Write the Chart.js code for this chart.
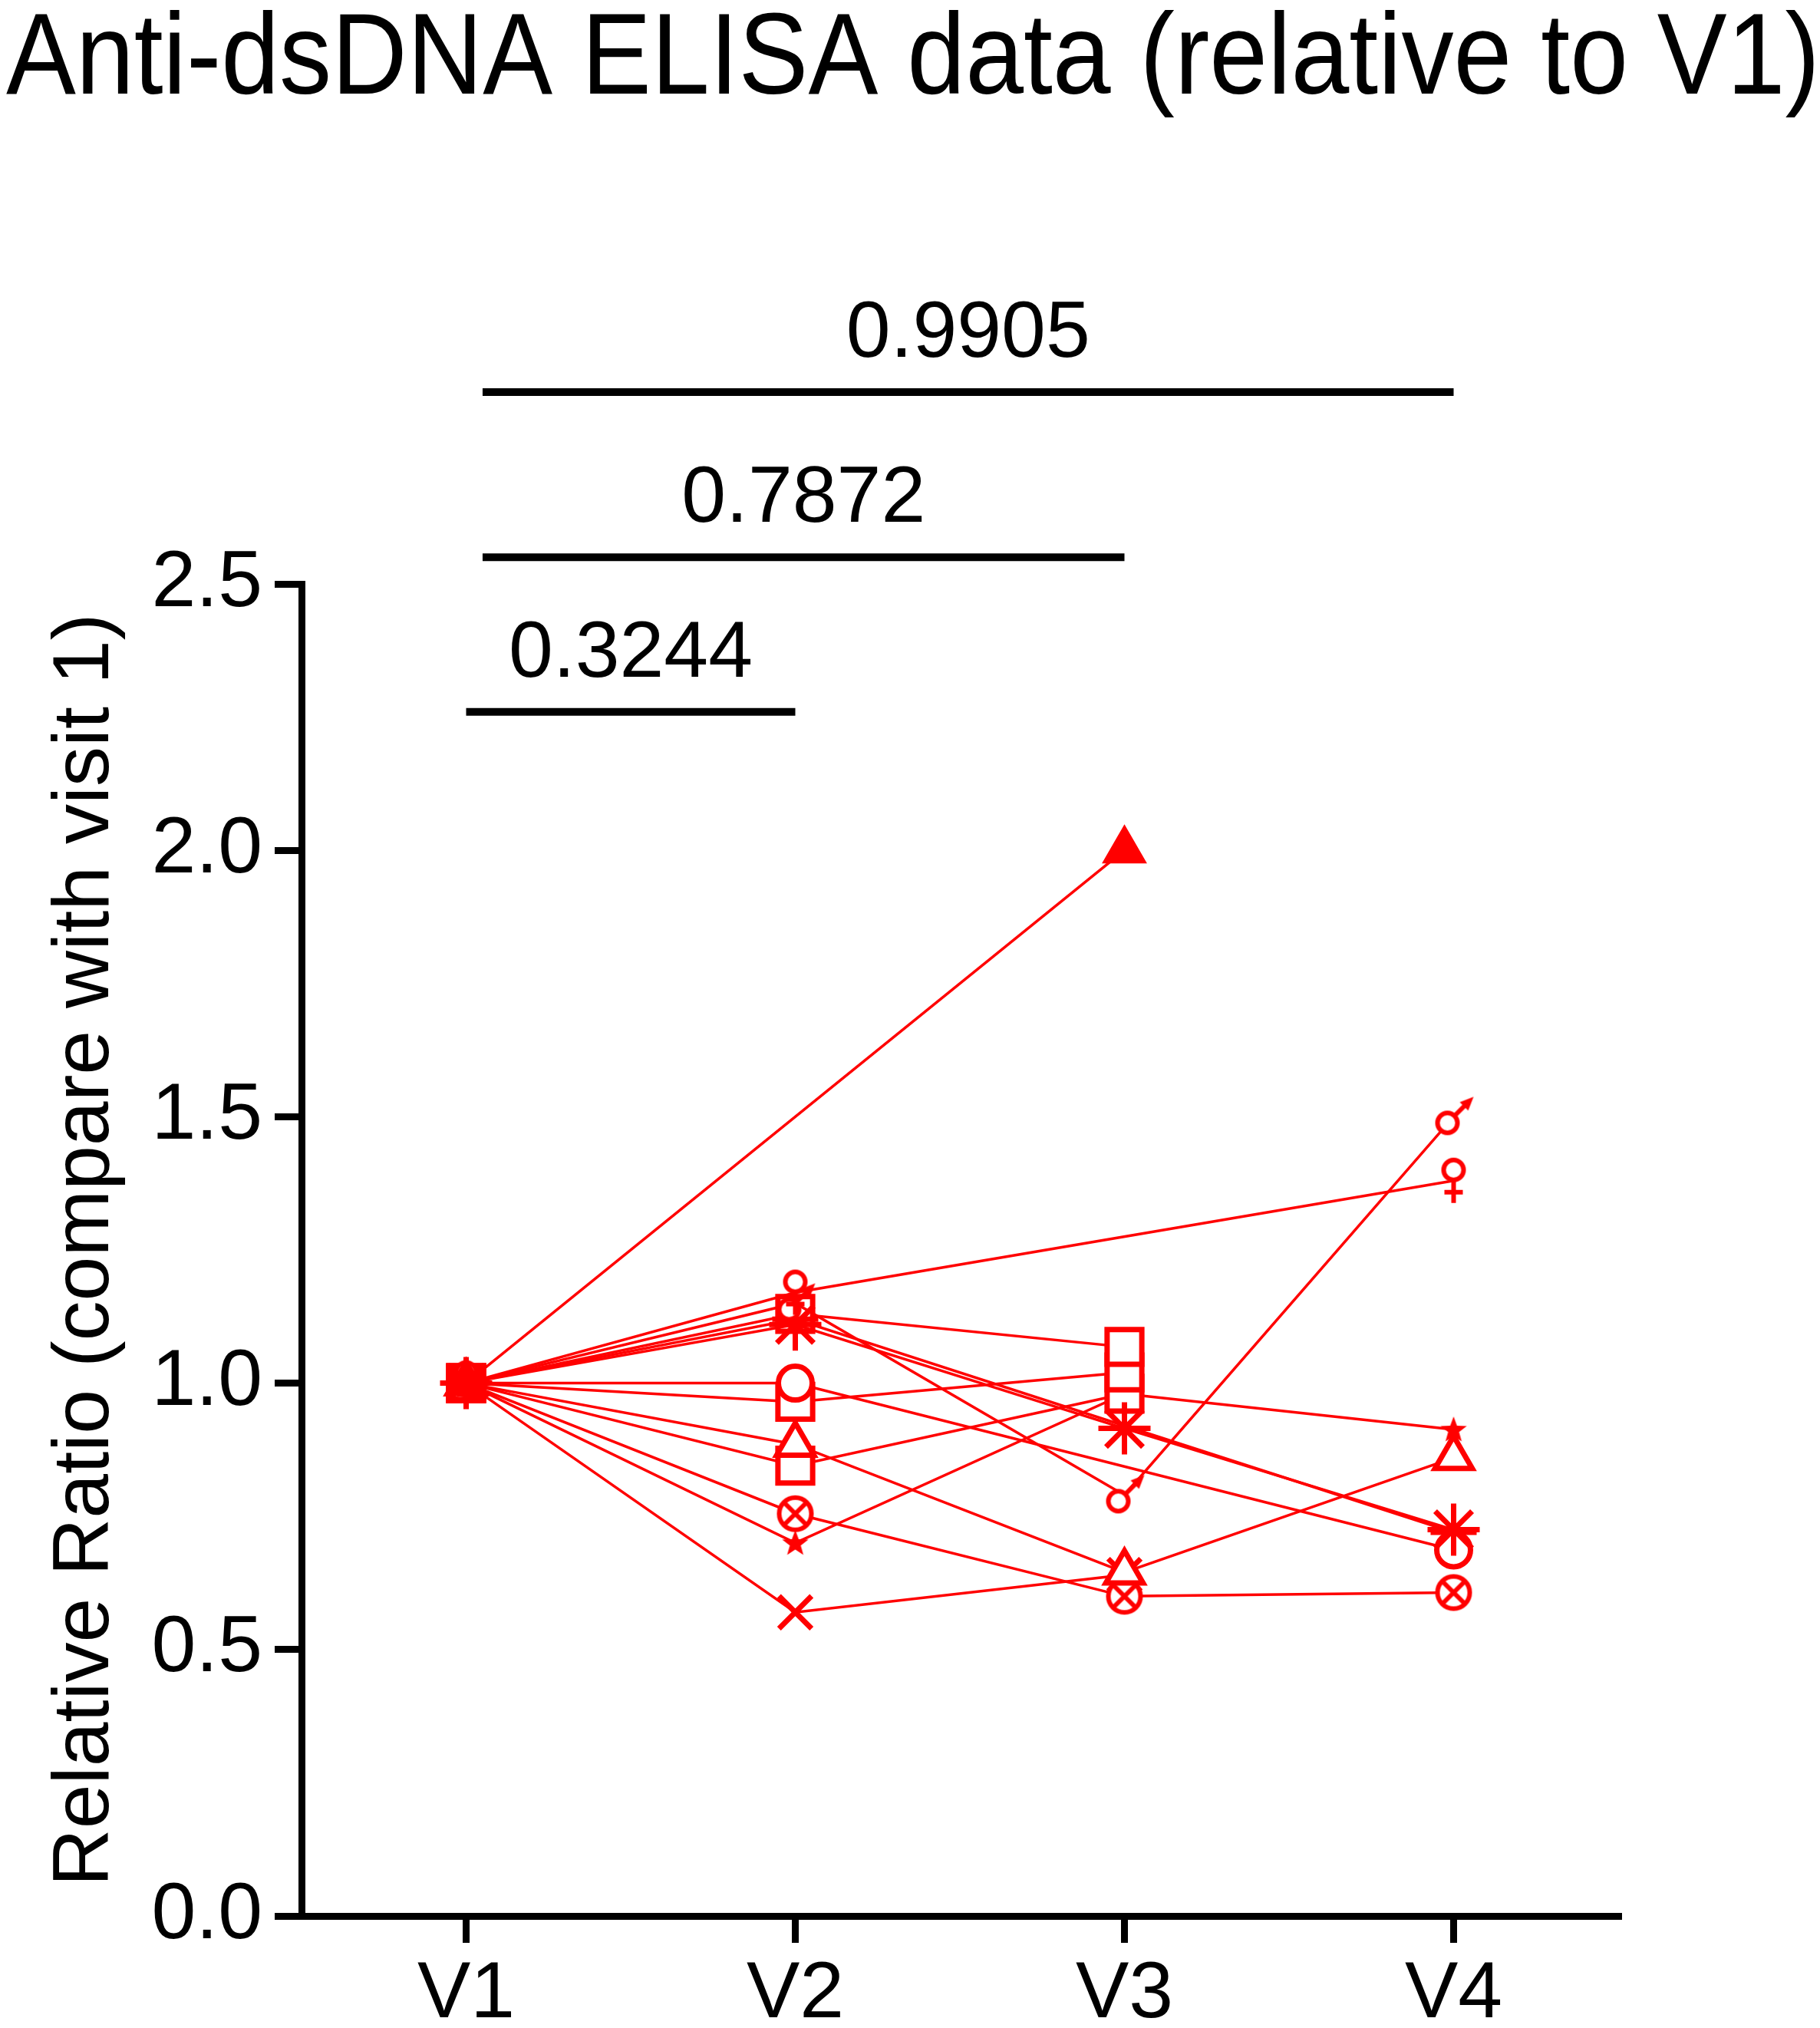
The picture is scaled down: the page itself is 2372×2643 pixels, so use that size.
<!DOCTYPE html>
<html lang="en">
<head>
<meta charset="utf-8">
<title>Anti-dsDNA ELISA data</title>
<style>
  html, body { margin: 0; padding: 0; background: white; }
  canvas { display: block; }
</style>
</head>
<body>
<canvas id="myChart" width="2372" height="2643"></canvas>
<script src="https://cdn.jsdelivr.net/npm/chart.js/dist/chart.umd.min.js"></script>
<script>
// visits
const visits = ['V1', 'V2', 'V3', 'V4'];

// one array per subject, ratio to visit 1 (null = no sample that visit)
const triFilled   = [1.0, null, 2.00, null];
const female      = [1.0, 1.17, null, 1.38];
const male        = [1.0, 1.15, 0.79, 1.50];
const asterisk    = [1.0, 1.11, 0.915, 0.725];
const plus        = [1.0, 1.12, null, 0.72];
const circle      = [1.0, 1.00, null, 0.687];
const squareA     = [1.0, 1.13, 1.068, null];
const squareB     = [1.0, 0.965, 1.02, null];
const squareC     = [1.0, 0.845, 0.98, null];
const star5       = [1.0, 0.70, 0.98, 0.913];
const triOpen     = [1.0, 0.885, 0.645, 0.86];
const crossCircle = [1.0, 0.755, 0.60, 0.607];
const xMark       = [1.0, 0.57, 0.64, null];

// y axis ticks
const yTicks = [0, 0.5, 1.0, 1.5, 2.0, 2.5];

// p values over the plot
const pLabels = ['0.3244', '0.7872', '0.9905'];
const pFrom   = [0, 0.05, 0.05];
const pTo     = [1, 2, 3];
const pLevel  = [2.26, 2.55, 2.86];

const red = '#ff0000';
const fam = '"Liberation Sans", Arial, Helvetica, sans-serif';

// little canvases for the odd Prism symbols
function icon(w, h, draw) {
  const c = document.createElement('canvas');
  c.width = w; c.height = h;
  const g = c.getContext('2d');
  g.strokeStyle = red; g.fillStyle = red; g.lineWidth = 6; g.lineCap = 'butt';
  draw(g);
  return c;
}
const femaleIcon = icon(40, 62, g => {
  g.fillStyle = '#fff';
  g.beginPath(); g.arc(20, 17, 13, 0, Math.PI * 2); g.fill(); g.stroke();
  g.beginPath(); g.moveTo(20, 30); g.lineTo(20, 60); g.moveTo(8, 46); g.lineTo(32, 46); g.stroke();
});
const maleIcon = icon(58, 58, g => {
  g.fillStyle = '#fff';
  g.beginPath(); g.arc(21, 37, 13, 0, Math.PI * 2); g.fill(); g.stroke();
  g.beginPath(); g.moveTo(30, 28); g.lineTo(45, 13); g.stroke();
  g.fillStyle = red;
  g.beginPath(); g.moveTo(55, 3); g.lineTo(37, 10); g.lineTo(48, 21); g.closePath(); g.fill();
});
const crossCircleIcon = icon(54, 54, g => {
  g.fillStyle = '#fff';
  g.beginPath(); g.arc(27, 27, 21, 0, Math.PI * 2); g.fill(); g.stroke();
  g.lineWidth = 6;
  g.beginPath(); g.moveTo(14, 14); g.lineTo(40, 40); g.moveTo(40, 14); g.lineTo(14, 40); g.stroke();
});
const starIcon = icon(36, 36, g => {
  g.beginPath();
  for (let k = 0; k < 10; k++) {
    const r = k % 2 ? 7.5 : 18;
    const a = -Math.PI / 2 + k * Math.PI / 5;
    g.lineTo(18 + r * Math.cos(a), 19 + r * Math.sin(a));
  }
  g.closePath(); g.fill();
});

const openFill = ['#ff0000', '#ffffff', '#ffffff', '#ffffff'];

function series(label, data, style, radius, bg) {
  return {
    label, data,
    borderColor: red,
    borderWidth: 3.5,
    tension: 0,
    spanGaps: true,
    clip: false,
    pointStyle: style,
    pointRadius: radius,
    pointBorderWidth: 7,
    pointBorderColor: red,
    pointBackgroundColor: bg || openFill
  };
}

const data = {
  labels: visits,
  datasets: [
    series('S1', triFilled, 'triangle', 27, red),
    series('S2', female, femaleIcon, 20),
    series('S3', male, maleIcon, 20),
    series('S4', plus, 'cross', 30),
    series('S5', asterisk, 'star', 34),
    series('S6', squareA, 'rect', 32),
    series('S7', circle, 'circle', 22),
    series('S8', squareB, 'rect', 32),
    series('S9', triOpen, 'triangle', 28),
    series('S10', squareC, 'rect', 32),
    series('S11', crossCircle, crossCircleIcon, 20),
    series('S12', star5, starIcon, 16),
    series('S13', xMark, 'crossRot', 30)
  ]
};

// p value bars
const pBrackets = {
  id: 'pBrackets',
  afterDraw(chart) {
    const {ctx, scales: {x, y}} = chart;
    ctx.save();
    ctx.strokeStyle = '#000';
    ctx.fillStyle = '#000';
    ctx.lineWidth = 10;
    ctx.font = '104px ' + fam;
    ctx.textAlign = 'center';
    ctx.textBaseline = 'alphabetic';
    for (let i = 0; i < pLabels.length; i++) {
      const x1 = x.getPixelForValue(pFrom[i]);
      const x2 = x.getPixelForValue(pTo[i]);
      const yy = y.getPixelForValue(pLevel[i]);
      ctx.beginPath();
      ctx.moveTo(x1, yy);
      ctx.lineTo(x2, yy);
      ctx.stroke();
      ctx.fillText(pLabels[i], (x1 + x2) / 2, yy - 46);
    }
    ctx.restore();
  }
};

const axisGrid = {
  display: true,
  drawOnChartArea: false,
  drawTicks: true,
  offset: false,
  tickLength: 35,
  tickWidth: 9,
  tickColor: '#000',
  color: '#000',
  lineWidth: 9
};

const config = {
  type: 'line',
  data,
  options: {
    responsive: false,
    animation: false,
    devicePixelRatio: 1,
    layout: { padding: { left: 8, right: 0, top: 0, bottom: 0 } },
    plugins: {
      legend: { display: false },
      tooltip: { enabled: false },
      title: {
        display: true,
        text: 'Anti-dsDNA ELISA data (relative to V1)',
        align: 'start',
        color: '#000',
        font: { family: fam, size: 151, weight: 'normal', lineHeight: 1 },
        padding: { top: 5, bottom: 605 }
      }
    },
    scales: {
      x: {
        type: 'category',
        offset: true,
        afterFit(s) { s.height = 146; },
        border: { display: true, color: '#000', width: 9 },
        grid: axisGrid,
        ticks: { color: '#000', font: { family: fam, size: 104 }, padding: 6, maxRotation: 0 }
      },
      y: {
        min: 0,
        max: 2.5,
        afterFit(s) { s.width = 385; },
        afterBuildTicks(s) { s.ticks = yTicks.map(v => ({ value: v })); },
        border: { display: true, color: '#000', width: 9 },
        grid: axisGrid,
        ticks: {
          color: '#000',
          font: { family: fam, size: 104 },
          padding: 16,
          callback: v => Number(v).toFixed(1)
        },
        title: {
          display: true,
          text: 'Relative Ratio (compare with visit 1)',
          color: '#000',
          font: { family: fam, size: 104, lineHeight: 1 },
          padding: { top: 52, bottom: 0 }
        }
      },
      // empty right-hand strip, keeps the plot narrow while the title stays full width
      pad: {
        position: 'right',
        afterFit(s) { s.width = 263; },
        border: { display: false },
        grid: { display: false },
        ticks: { display: false }
      }
    }
  },
  plugins: [pBrackets]
};

const myChart = new Chart(document.getElementById('myChart'), config);
</script>
</body>
</html>
